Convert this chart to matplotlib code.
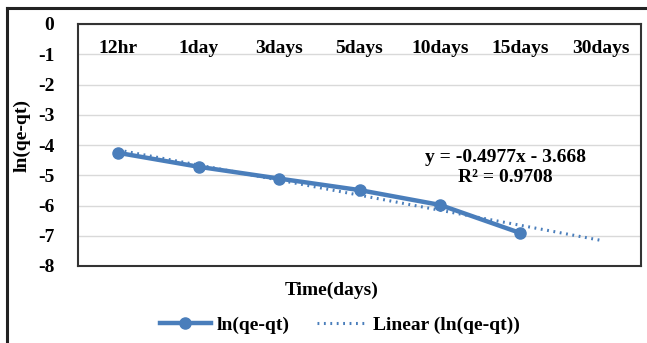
import matplotlib
matplotlib.use("Agg")
import matplotlib.pyplot as plt
import numpy as np

categories = ["12hr", "1day", "3days", "5days", "10days", "15days", "30days"]
ln_values = [-4.26, -4.72, -5.11, -5.49, -5.98, -6.91]
slope = -0.4977
intercept = -3.668
eq_text = "y = -0.4977x - 3.668\nR² = 0.9708"

W, H = 647, 343
fig = plt.figure(figsize=(W / 100, H / 100), dpi=100)
plt.rcParams['font.family'] = ['Liberation Serif', 'DejaVu Serif']
FS = 14

# outer frame lines (top and left)
fig.add_artist(plt.Line2D([7 / W, 7 / W], [0, 1 - 8 / H], transform=fig.transFigure,
                          color="#222222", lw=2.2))
fig.add_artist(plt.Line2D([7 / W, 1], [1 - 8 / H, 1 - 8 / H], transform=fig.transFigure,
                          color="#222222", lw=2.2))

left, right, top, bottom = 78, 641, 24, 266
ax = fig.add_axes([left / W, 1 - bottom / H, (right - left) / W, (bottom - top) / H])

xs = np.arange(1, len(ln_values) + 1)
color = "#4a7ebb"
ax.plot(xs, ln_values, color=color, lw=3.2, marker="o", ms=8, label="ln(qe-qt)", zorder=3)
xt = np.array([1, len(categories)])
ax.plot(xt, slope * xt + intercept, color=color, lw=2.2, ls=(0, (0.6, 1.5)),
        label="Linear (ln(qe-qt))", zorder=4)

ax.set_xlim(0.5, len(categories) + 0.5)
ax.set_ylim(-8, 0)
ax.set_yticks(range(-8, 1))
ax.set_yticklabels([str(v) for v in range(-8, 1)], fontsize=FS, fontweight="bold")
ax.tick_params(axis="y", length=0, pad=17)
ax.set_xticks([])
for i, c in enumerate(categories):
    ax.text(i + 1, -0.8, c, ha="center", va="center", fontsize=FS, fontweight="bold")

ax.grid(axis="y", color="#d9d9d9", lw=1)
ax.set_axisbelow(True)
for s in ax.spines.values():
    s.set_color("#333333")
    s.set_linewidth(1.5)

ax.text(5.81, -4.75, eq_text, ha="center", va="center", fontsize=FS, fontweight="bold",
        linespacing=1.25)

fig.text(22 / W, 1 - 135 / H, "ln(qe-qt)", rotation=90, ha="center", va="center",
         fontsize=FS, fontweight="bold")
fig.text(332 / W, 1 - 290 / H, "Time(days)", ha="center", va="center",
         fontsize=FS, fontweight="bold")

leg = fig.legend(loc="center", bbox_to_anchor=(340 / W, 1 - 325 / H), ncol=2, frameon=False,
                 prop={"size": FS, "weight": "bold"}, handlelength=2.6, columnspacing=1.4,
                 handletextpad=0.3)

fig.savefig("out.png", dpi=100)
